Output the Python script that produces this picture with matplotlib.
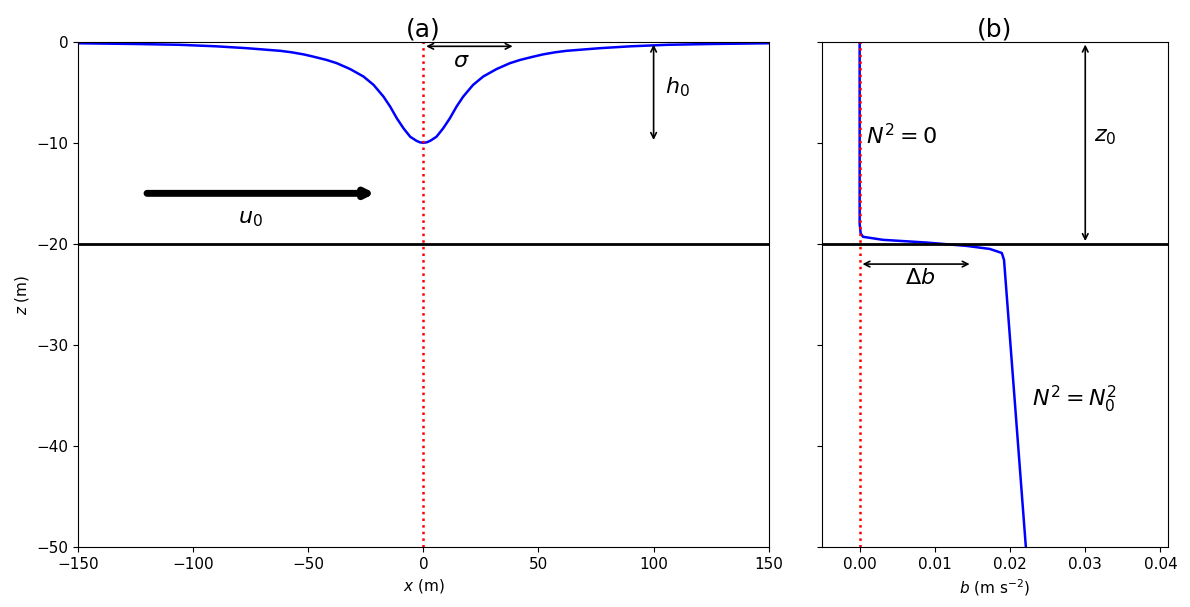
import matplotlib
matplotlib.use("Agg")
import matplotlib.pyplot as plt

# panel (a): surface depression h(x) (symmetric about x=0)
x_half = [-150, -125, -106, -90, -77, -62, -57, -52, -48, -42, -37.6, -31.8,
          -26, -21.6, -17.3, -14.4, -11.5, -8.6, -5.7, -3, -1.5, 0]
h_half = [-0.15, -0.22, -0.30, -0.45, -0.63, -0.90, -1.05, -1.25, -1.46, -1.80,
          -2.12, -2.70, -3.44, -4.27, -5.43, -6.42, -7.58, -8.57, -9.40, -9.80,
          -9.95, -10.0]
x_surf = x_half + [-v for v in x_half[-2::-1]]
h_surf = h_half + h_half[-2::-1]

# panel (b): buoyancy profile b(z)
b_prof = [0.0, 0.0, 0.00013, 0.00044, 0.0031, 0.0089, 0.0142, 0.0173, 0.0189,
          0.0192, 0.0221]
z_prof = [0.0, -18.0, -18.95, -19.3, -19.6, -19.87, -20.2, -20.5, -20.9,
          -21.6, -50.0]

z0 = -20
h0 = -10
sigma = 40
db = 0.015

fig = plt.figure(figsize=(11.9, 6.07), dpi=100)
ax1 = fig.add_axes([0.0655, 0.0988, 0.5805, 0.8324])
ax2 = fig.add_axes([0.6908, 0.0988, 0.2907, 0.8324], sharey=ax1)

# ---- (a)
ax1.plot(x_surf, h_surf, color="blue", lw=1.8)
ax1.axvline(0, color="red", ls=":", lw=1.8)
ax1.axhline(z0, color="black", lw=2)
ax1.annotate("", xy=(sigma, -0.45), xytext=(0, -0.45),
             arrowprops=dict(arrowstyle="<->", color="black", lw=1.2))
ax1.text(16.5, -1.9, r"$\sigma$", fontsize=16, ha="center", va="center")
ax1.annotate("", xy=(100, h0), xytext=(100, 0),
             arrowprops=dict(arrowstyle="<->", color="black", lw=1.2))
ax1.text(105, -4.5, r"$h_0$", fontsize=16, ha="left", va="center")
ax1.annotate("", xy=(-21, -15), xytext=(-120, -15),
             arrowprops=dict(arrowstyle="-|>", color="black", lw=5,
                             mutation_scale=12, capstyle="round",
                             shrinkA=0, shrinkB=0))
ax1.text(-75, -17.5, r"$u_0$", fontsize=16, ha="center", va="center")
ax1.set_xlim(-150, 150)
ax1.set_ylim(-50, 0)
ax1.set_xlabel(r"$x$ (m)", fontsize=11)
ax1.set_ylabel(r"$z$ (m)", fontsize=11)
ax1.set_title("(a)", fontsize=18, pad=3)
ax1.tick_params(labelsize=11)

# ---- (b)
ax2.plot(b_prof, z_prof, color="blue", lw=1.8)
ax2.axvline(0, color="red", ls=":", lw=1.8)
ax2.axhline(z0, color="black", lw=2)
ax2.annotate("", xy=(0.03, z0), xytext=(0.03, 0),
             arrowprops=dict(arrowstyle="<->", color="black", lw=1.2))
ax2.text(0.0311, -9.4, r"$z_0$", fontsize=16, ha="left", va="center")
ax2.annotate("", xy=(db, -22), xytext=(0, -22),
             arrowprops=dict(arrowstyle="<->", color="black", lw=1.2))
ax2.text(0.008, -23.4, r"$\Delta b$", fontsize=16, ha="center", va="center")
ax2.text(0.0008, -9.3, r"$N^2 = 0$", fontsize=16, ha="left", va="center")
ax2.text(0.0229, -35.4, r"$N^2 = N_0^2$", fontsize=16, ha="left", va="center")
ax2.set_xlim(-0.005, 0.041)
ax2.set_xticks([0.0, 0.01, 0.02, 0.03, 0.04])
ax2.set_xlabel(r"$b$ (m s$^{-2}$)", fontsize=11)
ax2.set_title("(b)", fontsize=18, pad=3)
ax2.tick_params(labelsize=11, labelleft=False)

fig.savefig("out.png", dpi=100)
